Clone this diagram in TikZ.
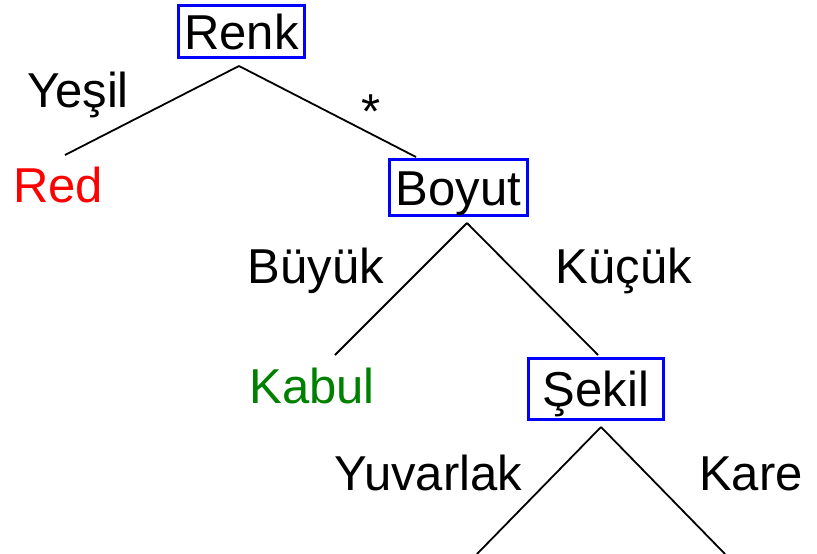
\documentclass[tikz,border=0pt]{standalone}
\usepackage{fontspec}
\setmainfont{Liberation Sans}
\usepackage{tikz}
\usetikzlibrary{positioning}

\begin{document}
\begin{tikzpicture}[
    x=1pt, y=-1pt,
    every node/.style={font=\fontsize{49}{58}\selectfont, inner sep=0pt},
    attr/.style={rectangle, draw=blue, line width=3.2pt, text height=35pt, text depth=0pt},
    label/.style={anchor=base},
    link/.style={line width=1.8pt}
]
\useasboundingbox (0,0) rectangle (817,554);

% Düğümler
\node[attr, minimum width=126pt, minimum height=52pt] (renk) at (241.5,31.5) {Renk};
\node[attr, minimum width=138pt, minimum height=56pt] (boyut) at (458.5,187.5) {Boyut};
\node[attr, minimum width=135pt, minimum height=61pt] (sekil) at (596,389) {Şekil};

% Yapraklar
\node[label, text=red] (red) at (58,202) {Red};
\node[label, text={rgb,255:red,0;green,128;blue,0}] (kabul) at (312,403) {Kabul};

% Dal uçları
\coordinate (renk-foot) at (239,66);
\coordinate (red-top) at (65,155);
\coordinate (boyut-top) at (416,157);
\coordinate (boyut-foot) at (467,223);
\coordinate (kabul-top) at (335,355);
\coordinate (sekil-top) at (598,355);
\coordinate (sekil-foot) at (601,427);
\coordinate (yuvarlak-end) at (477,554);
\coordinate (kare-end) at (725,554);

% Dallar
\draw[link] (renk-foot) -- (red-top);
\draw[link] (renk-foot) -- (boyut-top);
\draw[link] (boyut-foot) -- (kabul-top);
\draw[link] (boyut-foot) -- (sekil-top);
\draw[link] (sekil-foot) -- (yuvarlak-end);
\draw[link] (sekil-foot) -- (kare-end);

% Dal etiketleri
\node[label] (yesil) at (78,107) {Yeşil};
\node[label] (yildiz) at (371,128) {*};
\node[label] (buyuk) at (316,283) {Büyük};
\node[label] (kucuk) at (624,283) {Küçük};
\node[label] (yuvarlak) at (428,490) {Yuvarlak};
\node[label] (kare) at (751,490) {Kare};

\end{tikzpicture}
\end{document}
